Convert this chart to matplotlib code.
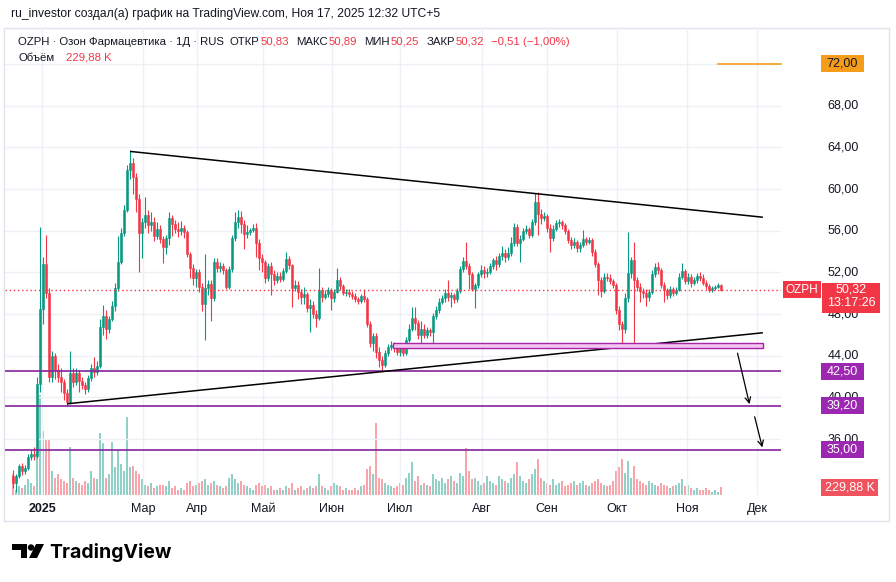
import numpy as np
import matplotlib
matplotlib.use("Agg")
import matplotlib.pyplot as plt
from matplotlib.patches import Rectangle, Polygon, Circle

plt.rcParams['font.family'] = ['Liberation Sans', 'DejaVu Sans']

# daily candles, late Dec 2024 .. 17 Nov 2025
closes = [
    31.8, 32.5, 33.4, 32.9, 33.2, 34.3, 34.6, 34.4, 41.3, 48.5,
    52.8, 50.0, 42.0, 44.0, 42.6, 42.0, 41.5, 40.4, 39.6, 42.3,
    41.5, 42.3, 41.6, 41.2, 40.8, 41.9, 42.8, 42.4, 43.0, 46.8,
    47.8, 46.6, 47.5, 48.8, 50.5, 53.0, 55.8, 58.0, 61.8, 62.5,
    61.2, 59.0, 55.8, 56.8, 57.5, 56.5, 56.8, 55.5, 56.2, 55.2,
    54.4, 55.3, 57.2, 56.6, 56.2, 56.0, 56.3, 55.9, 53.8, 52.4,
    51.5, 52.0, 50.6, 49.0, 50.5, 50.9, 49.5, 53.0, 52.4, 52.6,
    52.2, 50.6, 52.3, 55.3, 56.8, 57.3, 56.6, 55.7, 55.9, 56.1,
    56.3, 54.8, 53.4, 53.0, 51.5, 52.6, 51.8, 51.3, 51.7, 51.4,
    52.1, 53.3, 52.7, 50.5, 50.8, 50.1, 49.6, 49.9, 48.6, 48.9,
    48.0, 47.6, 50.3, 49.6, 49.9, 50.3, 49.5, 50.1, 51.3, 50.7,
    50.0, 50.1, 49.9, 49.7, 49.4, 49.3, 49.7, 49.4, 47.0, 45.2,
    45.9, 44.4, 43.6, 43.1, 44.3, 44.8, 45.0, 44.7, 44.4, 44.9,
    44.3, 45.5, 46.6, 47.6, 47.1, 46.0, 46.6, 46.0, 46.5, 46.3,
    47.8, 48.4, 49.2, 49.5, 50.0, 49.6, 49.8, 49.4, 50.2, 52.3,
    53.1, 52.6, 51.8, 50.4, 50.8, 51.8, 52.2, 51.9, 52.0, 52.6,
    53.2, 52.8, 53.6, 53.9, 53.5, 53.9, 54.8, 56.4, 54.8, 55.2,
    56.0, 56.2, 55.6, 56.8, 58.8, 57.6, 57.2, 57.4, 56.3, 55.3,
    56.2, 56.7, 56.8, 56.5, 56.0, 55.1, 54.6, 54.9, 54.3, 54.6,
    55.2, 54.9, 55.1, 54.0, 52.8, 51.3, 50.2, 51.6, 51.5, 51.2,
    50.8, 48.4, 47.0, 46.6, 49.5, 51.9, 53.2, 51.3, 50.6, 50.2,
    50.0, 49.6, 50.1, 51.8, 52.5, 52.2, 50.8, 50.3, 49.8, 50.4,
    50.0, 50.3, 51.6, 52.1, 51.2, 51.6, 51.0, 51.3, 51.7, 51.5,
    51.0, 50.7, 50.3, 50.5, 50.6, 50.83, 50.32,
]
highs = [
    33.0, 32.7, 33.6, 33.7, 33.5, 34.6, 35.0, 35.2, 42.0, 56.4,
    53.5, 55.6, 50.5, 44.5, 44.3, 43.2, 42.8, 41.8, 40.8, 44.5,
    42.8, 42.8, 42.6, 42.0, 41.5, 42.2, 43.2, 43.9, 43.5, 47.5,
    48.9, 48.4, 47.8, 49.3, 51.0, 55.5, 56.3, 58.5, 62.3, 63.7,
    63.0, 61.5, 59.5, 57.2, 59.2, 58.0, 57.8, 57.3, 56.8, 56.5,
    55.5, 55.6, 57.8, 57.5, 57.0, 56.8, 56.9, 56.5, 56.1, 54.0,
    52.8, 52.3, 52.3, 51.0, 53.8, 51.3, 51.3, 53.4, 53.4, 53.0,
    52.9, 52.4, 52.6, 55.6, 57.8, 58.0, 57.9, 57.0, 56.5, 56.3,
    56.6, 56.7, 55.2, 53.8, 53.2, 52.9, 53.0, 52.2, 52.0, 52.0,
    52.4, 54.0, 53.6, 52.8, 51.3, 51.2, 50.4, 50.6, 50.1, 49.4,
    49.3, 48.4, 52.4, 50.6, 50.3, 50.6, 50.5, 50.4, 52.4, 51.6,
    50.9, 50.4, 50.4, 50.2, 50.0, 49.6, 49.9, 50.4, 49.6, 47.3,
    46.2, 46.2, 44.8, 44.0, 44.6, 45.1, 45.4, 45.3, 45.0, 45.2,
    45.1, 45.8, 47.0, 48.7, 48.7, 47.4, 47.3, 47.0, 46.8, 46.7,
    48.1, 48.8, 49.5, 49.8, 50.4, 51.3, 50.1, 50.0, 50.5, 52.6,
    53.5, 54.9, 52.9, 52.0, 51.0, 52.0, 52.7, 52.6, 52.4, 52.9,
    53.4, 53.6, 53.9, 54.5, 54.2, 54.4, 55.4, 56.7, 56.6, 55.6,
    56.3, 56.5, 56.4, 57.1, 59.6, 59.7, 58.1, 57.8, 57.6, 56.6,
    56.5, 57.0, 57.1, 57.0, 56.7, 56.2, 55.4, 55.3, 55.1, 54.9,
    56.1, 55.4, 55.4, 55.3, 54.2, 53.0, 51.6, 51.9, 51.9, 51.8,
    51.4, 51.0, 48.8, 47.3, 50.0, 55.9, 53.5, 54.9, 51.6, 51.0,
    50.5, 50.4, 50.4, 52.2, 52.9, 53.0, 52.4, 51.1, 50.5, 50.7,
    50.6, 50.6, 51.9, 52.9, 52.3, 51.9, 51.8, 51.6, 51.9, 52.0,
    51.8, 51.3, 50.9, 50.7, 50.8, 51.0, 50.89,
]
lows = [
    31.3, 30.9, 32.3, 32.6, 32.7, 33.0, 34.0, 34.0, 34.2, 40.5,
    47.0, 49.5, 41.5, 41.5, 41.8, 41.5, 40.5, 39.8, 39.2, 39.4,
    41.0, 41.2, 40.5, 40.8, 40.3, 40.5, 41.6, 42.0, 42.2, 42.8,
    46.0, 45.6, 46.2, 47.3, 48.3, 50.2, 52.8, 55.5, 57.8, 61.0,
    59.5, 57.8, 52.0, 53.4, 56.3, 55.8, 56.0, 55.0, 55.2, 54.8,
    52.9, 53.8, 54.6, 55.5, 55.8, 55.4, 55.6, 55.3, 53.5, 51.5,
    50.8, 50.6, 50.1, 48.3, 45.5, 49.8, 47.3, 49.3, 52.0, 52.0,
    51.8, 50.4, 50.4, 52.0, 55.0, 56.3, 55.8, 54.2, 55.3, 55.6,
    55.9, 53.5, 52.2, 52.0, 51.0, 51.2, 49.8, 50.8, 51.0, 51.1,
    51.2, 51.9, 52.3, 48.7, 50.2, 49.4, 49.0, 49.0, 48.2, 46.3,
    47.6, 46.8, 47.4, 49.2, 49.4, 49.6, 48.4, 49.2, 50.0, 50.3,
    49.8, 49.7, 49.6, 49.4, 49.2, 49.0, 49.1, 49.2, 46.8, 44.8,
    44.5, 43.8, 42.9, 42.4, 42.9, 44.0, 44.6, 44.4, 44.1, 44.0,
    44.0, 44.1, 45.3, 46.4, 46.5, 45.6, 45.2, 45.7, 45.7, 45.9,
    44.9, 47.5, 48.1, 49.0, 49.2, 49.3, 48.7, 49.1, 49.2, 50.0,
    52.0, 52.3, 50.4, 50.2, 48.6, 50.5, 51.6, 51.5, 51.6, 51.8,
    52.3, 52.2, 52.5, 53.2, 53.0, 53.2, 53.6, 54.5, 54.5, 53.0,
    55.0, 55.7, 55.3, 55.4, 56.5, 55.6, 56.6, 56.9, 55.9, 54.0,
    55.0, 56.0, 56.4, 56.2, 55.7, 54.8, 54.2, 54.3, 54.0, 54.0,
    54.4, 54.6, 54.7, 53.6, 52.5, 49.8, 49.6, 50.0, 51.2, 50.9,
    50.5, 48.0, 46.5, 44.8, 46.2, 49.2, 51.5, 45.0, 50.2, 49.2,
    49.5, 48.8, 49.3, 49.9, 51.6, 51.8, 50.5, 49.2, 49.4, 49.5,
    49.7, 49.8, 50.2, 51.4, 50.9, 50.9, 50.6, 50.8, 51.0, 51.2,
    50.8, 50.4, 50.1, 50.1, 50.3, 50.5, 50.25,
]
first_open = 32.5
last_open = 50.83

# volume, thousands of shares
volumes = [
    600, 150, 250, 200, 300, 450, 350, 250, 1400, 2900,
    1850, 1600, 1600, 700, 500, 600, 450, 400, 350, 1400,
    500, 400, 350, 300, 400, 350, 700, 500, 450, 1800,
    1500, 500, 600, 1550, 800, 1300, 900, 700, 2250, 800,
    850, 700, 600, 450, 300, 250, 350, 200, 250, 300,
    300, 250, 400, 200, 250, 150, 200, 150, 350, 400,
    250, 300, 350, 400, 450, 300, 350, 400, 300, 250,
    200, 250, 500, 600, 450, 350, 400, 300, 250, 200,
    150, 300, 350, 250, 300, 200, 250, 150, 150, 200,
    150, 250, 200, 350, 150, 200, 250, 150, 200, 250,
    200, 250, 600, 250, 200, 150, 250, 350, 300, 250,
    150, 200, 150, 150, 200, 150, 250, 300, 750, 850,
    600, 2100, 500, 450, 350, 300, 250, 200, 250, 350,
    300, 500, 650, 950, 400, 550, 300, 350, 300, 250,
    600, 450, 400, 500, 350, 450, 550, 400, 350, 650,
    550, 1350, 700, 450, 500, 400, 300, 350, 550, 400,
    350, 300, 550, 450, 400, 350, 500, 600, 950, 550,
    400, 350, 450, 600, 750, 1050, 500, 400, 350, 300,
    450, 300, 350, 400, 250, 300, 350, 400, 300, 350,
    400, 300, 250, 350, 400, 450, 350, 300, 250, 300,
    400, 700, 800, 1050, 650, 1000, 500, 850, 450, 400,
    350, 300, 400, 350, 300, 250, 350, 300, 250, 200,
    250, 300, 350, 450, 250, 300, 200, 150, 200, 150,
    150, 200, 150, 100, 150, 100, 229.88,
]

month_pos = [9.7, 43.3, 61.3, 83.3, 106.3, 129, 156.3, 178, 201.3, 224.7, 248]
month_lab = ['2025', 'Мар', 'Апр', 'Май', 'Июн', 'Июл', 'Авг', 'Сен', 'Окт', 'Ноя', 'Дек']

price_ticks = [36, 40, 44, 48, 52, 56, 60, 64, 68]
levels = [42.50, 39.20, 35.00]
target = 72.00
last_price = 50.32
last_volume = 229.88

# drawings: (bar, price)
upper_trend = [(39.3, 63.6), (249.7, 57.3)]
lower_trend = [(18.3, 39.4), (249.7, 46.2)]
zone = (126.7, 250.0, 44.74, 45.22)
arrows = [((241.3, 44.5), (245.7, 39.1)), ((247.0, 38.4), (250.0, 34.95))]

GREEN = '#089981'
RED = '#f23645'
PURPLE_LINE = '#86239c'
PURPLE = '#9c27b0'
DARK = '#131722'

closes = np.array(closes)
highs = np.array(highs)
lows = np.array(lows)
opens = np.concatenate([[first_open], closes[:-2], [last_open]])
n = len(closes)
x = np.arange(n)
up = closes >= opens

fig = plt.figure(figsize=(8.96, 5.82), dpi=100)

# background layer in pixel coordinates: frame + logo
bg = fig.add_axes([0, 0, 1, 1])
bg.set_xlim(0, 896)
bg.set_ylim(582, 0)
bg.axis('off')
bg.add_patch(Rectangle((4, 28), 885, 493, fill=False, ec='#e0e3eb', lw=1))
bg.add_patch(Polygon([(12, 544), (27, 544), (27, 558), (21, 558), (21, 550), (12, 550)],
                     closed=True, fc='black', ec='none'))
bg.add_patch(Circle((31, 547.5), 3.2, fc='black', ec='none'))
bg.add_patch(Polygon([(36, 544), (44, 544), (37, 558), (29, 558)], closed=True, fc='black', ec='none'))
bg.text(49, 552, 'TradingView', fontsize=14, fontweight='bold', family=['Inter', 'DejaVu Sans'],
        va='center', ha='left', color='black')

L, R, T, B = 5, 781, 28, 495
ax = fig.add_axes([L / 896, 1 - B / 582, (R - L) / 896, (B - T) / 582])
ax2 = ax.twinx()
ax.set_zorder(ax2.get_zorder() + 1)
ax.patch.set_visible(False)

def px2frac(px):
    return (px - L) / (R - L)

# volume
vcol = [GREEN if u else RED for u in up]
ax2.bar(x, volumes, width=0.55, color=vcol, alpha=0.45, linewidth=0)
ax2.set_ylim(0, 13540)
ax2.set_yticks([])
for s in ax2.spines.values():
    s.set_visible(False)

# candles
for i in range(n):
    c = GREEN if up[i] else RED
    hi = max(highs[i], opens[i], closes[i])
    lo = min(lows[i], opens[i], closes[i])
    ax.vlines(x[i], lo, hi, color=c, lw=0.8, zorder=3)
    b0 = min(opens[i], closes[i])
    bh = max(abs(closes[i] - opens[i]), 0.06)
    ax.add_patch(Rectangle((x[i] - 0.33, b0), 0.66, bh, fc=c, ec=c, lw=0.4, zorder=4))

ax.set_xlim((L - 13) / 3, (R - 13) / 3)
ax.set_ylim(30.64, 75.45)
ax.set_yticks(price_ticks + [72])
ax.tick_params(axis='y', left=False, right=False, labelleft=False, labelright=False)
ax.set_xticks(month_pos)
ax.set_xticklabels(month_lab, fontsize=9, color=DARK)
ax.get_xticklabels()[0].set_fontweight('bold')
ax.tick_params(axis='x', length=0, pad=6)
ax.grid(True, color='#eef0f5', lw=1)
ax.set_axisbelow(True)
for s in ax.spines.values():
    s.set_visible(False)

# horizontal levels
for lv in levels:
    ax.axhline(lv, color=PURPLE_LINE, lw=1.2, zorder=5)
ax.plot([235, ax.get_xlim()[1]], [target, target], color='#f59c1a', lw=1.2, zorder=5, clip_on=False)
ax.axhline(last_price, color=RED, lw=1, ls=(0, (1, 2)), zorder=5)

# trend lines, zone and arrows
for pts in (upper_trend, lower_trend):
    ax.plot([p[0] for p in pts], [p[1] for p in pts], color='black', lw=1.1, zorder=6, clip_on=False)
ax.add_patch(Rectangle((zone[0], zone[2]), zone[1] - zone[0], zone[3] - zone[2],
                       fc='#f6c6f3', ec='#a626a4', lw=1, zorder=6))
for a, b in arrows:
    ax.annotate('', xy=b, xytext=a, annotation_clip=False,
                arrowprops=dict(arrowstyle='->', color='black', lw=0.9, mutation_scale=10), zorder=7)

# right price scale
ytr = ax.get_yaxis_transform()
for p in price_ticks:
    ax.text(px2frac(843), p, f'{p},00', transform=ytr, fontsize=9, color=DARK,
            ha='center', va='center', clip_on=False, zorder=8)

def tag(price, text, fc, tc, x0, x1, h_px=17, dy_px=0, axis=ax, per_px=1 / 10.42, size=9):
    tr = axis.get_yaxis_transform()
    h = h_px * per_px
    y0 = price - h / 2 - dy_px * per_px
    axis.add_patch(Rectangle((px2frac(x0), y0), px2frac(x1) - px2frac(x0), h, transform=tr,
                             fc=fc, ec='none', clip_on=False, zorder=9))
    axis.text((px2frac(x0) + px2frac(x1)) / 2, y0 + h / 2, text, transform=tr, color=tc,
              fontsize=size, ha='center', va='center', clip_on=False, zorder=10)

for lv in levels:
    tag(lv, f'{lv:.2f}'.replace('.', ','), PURPLE, 'white', 821, 864)
tag(target, f'{target:.2f}'.replace('.', ','), '#f59c1a', DARK, 821, 864)
tag(last_price, 'OZPH', RED, 'white', 783, 821, size=8.5)
tag(last_price, '', RED, 'white', 822, 880, h_px=30, dy_px=8)
ax.text(px2frac(851), last_price, f'{last_price:.2f}'.replace('.', ','), transform=ytr,
        color='white', fontsize=9, ha='center', va='center', clip_on=False, zorder=10)
ax.text(px2frac(851), last_price - 13 / 10.42, '13:17:26', transform=ytr,
        color='white', fontsize=9, ha='center', va='center', clip_on=False, zorder=10)
tag(last_volume, '229,88 K', '#f0525e', 'white', 821, 878, axis=ax2, per_px=29, size=9)

# header texts
def ftext(px, py, s, color=DARK, size=8.5, **kw):
    return fig.text(px / 896, 1 - py / 582, s, color=color, fontsize=size, va='center', ha='left', **kw)

ftext(11, 14, 'ru_investor создал(а) график на TradingView.com, Ноя 17, 2025 12:32 UTC+5', size=8.7)

# legend row laid out piece by piece (label, colour, gap after in px)
legend_row = [('OZPH · Озон Фармацевтика · 1Д · RUS', DARK, 6), ('ОТКР', DARK, 1), ('50,83', RED, 7),
              ('МАКС', DARK, 1), ('50,89', RED, 7), ('МИН', DARK, 1), ('50,25', RED, 7),
              ('ЗАКР', DARK, 1), ('50,32', RED, 7), ('−0,51 (−1,00%)', RED, 0)]
renderer = fig.canvas.get_renderer()
cursor = 18
for s, c, gap in legend_row:
    t = ftext(cursor, 42, s, color=c, size=8.2)
    cursor += t.get_window_extent(renderer).width + gap
ftext(18, 58, 'Объём', color=DARK, size=8.2)
ftext(66, 58, '229,88 K', color=RED, size=8.2)

fig.savefig('out.png', dpi=100)
